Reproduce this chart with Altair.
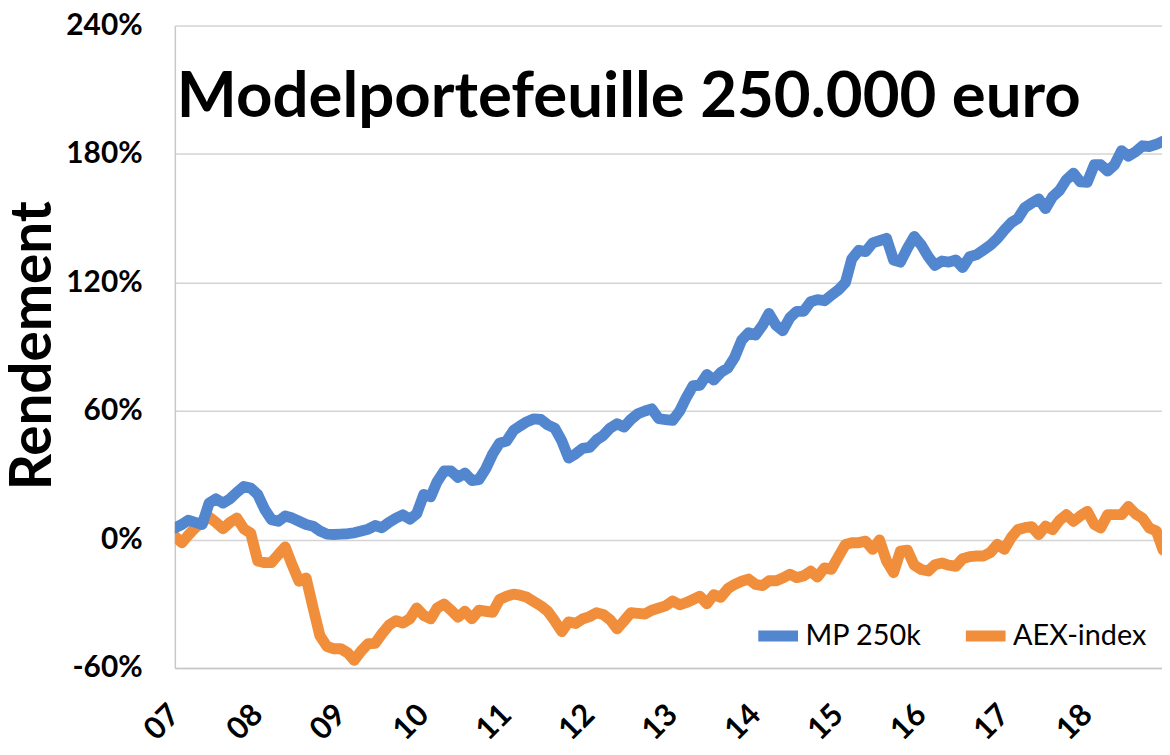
import altair as alt
import pandas as pd

# Monthly returns (%) from Jan 2007
start_month = "2007-01-01"
mp_250k = [
    5.4, 7, 9, 8, 7, 17, 19, 17, 19, 22, 24.7, 24,
    21, 14, 9.3, 8.5, 11, 10, 8.5, 7, 6.2, 4, 2.5, 2.3,
    2.5, 2.7, 3.1, 4, 4.8, 6.5, 5.5, 8, 10, 11.5, 9.5, 12,
    21, 20, 27, 32, 32, 29, 31, 27.5, 28, 33, 40, 45,
    46, 51, 53, 55, 56.3, 56, 53.5, 52, 46, 38, 40, 42.5,
    43, 46.5, 48.5, 52, 54, 52.5, 56, 58.7, 60, 61, 56.4, 56,
    55.6, 60, 66, 71.8, 72, 77, 74.5, 78, 80, 85, 93, 96.5,
    95.5, 100, 105.5, 100, 97.5, 103.5, 106.5, 106.6, 111, 112, 111.5, 114,
    116.5, 120, 131, 135, 134.4, 138.5, 139.5, 140.6, 130.5, 129.5, 136, 141.5,
    137.5, 132, 128, 130, 129.5, 130.5, 127, 132, 133, 135.2, 137.5, 140.5,
    144.5, 148, 149.8, 155, 157, 159, 154.5, 160, 163, 168, 171, 167,
    166.8, 175, 175, 172, 175, 181.5, 179, 181, 183.8, 183.5, 184.5, 186,
]
aex_index = [
    1.5, -1.5, 2, 5.5, 8, 10.5, 8, 5, 8, 10, 5, 3,
    -10, -10.8, -10.8, -7, -3.5, -12, -19.5, -18, -32, -45, -50, -51,
    -51, -53, -56.4, -52, -48.7, -48.5, -44, -40, -37.9, -39, -37, -32,
    -35.5, -37, -32, -30.1, -33, -36.3, -33.5, -37, -33, -33.5, -34, -28,
    -26.5, -25.5, -26, -27, -29, -31, -33.5, -38, -43, -38.5, -39.2, -37.1,
    -36, -34.2, -35, -37.5, -41.7, -38, -34.2, -34.5, -34.8, -33, -32, -31,
    -28.7, -30.5, -29.5, -28, -26.5, -30, -25.8, -27, -23, -21, -19.5, -18.5,
    -21, -21.5, -19.3, -19.3, -18, -16.2, -17.8, -17, -14.8, -17.5, -13.3, -13.9,
    -8, -2.3, -1.5, -1.5, -0.8, -4.6, -0.2, -10, -15.5, -5.5, -5, -12,
    -14, -14.7, -11.8, -11, -12, -12.5, -9, -8, -7.7, -7.7, -6, -2.3,
    -4.6, 1, 4.6, 5.5, 6, 2.3, 6.2, 4.6, 9, 11.6, 8.5, 11,
    13.1, 7, 5.4, 11.6, 11.6, 11.6, 15.4, 12, 10, 5.4, 4, -5,
]
series_names = ["MP 250k", "AEX-index"]
series_colors = ["#5286CF", "#F08E3C"]
y_ticks = [-60, 0, 60, 120, 180, 240]
years = list(range(2007, 2019))
title_text = "Modelportefeuille 250.000 euro"
y_title = "Rendement"

dates = pd.date_range(start_month, periods=len(mp_250k), freq="MS")
df = pd.concat([
    pd.DataFrame({"date": dates, "value": aex_index, "series": "AEX-index", "ord": 0}),
    pd.DataFrame({"date": dates, "value": mp_250k, "series": "MP 250k", "ord": 1}),
])

FONT = "Lato"

x_enc = alt.X(
    "date:T",
    scale=alt.Scale(domain=[alt.DateTime(year=2007, month=1, date=1),
                            alt.DateTime(year=2018, month=11, date=26)]),
    axis=alt.Axis(
        title=None, format="%y", values=[alt.DateTime(year=y, month=1, date=1) for y in years],
        labelAngle=-45, labelAlign="right", labelBaseline="middle",
        labelFont=FONT, labelFontWeight="bold", labelFontSize=31, labelColor="black",
        labelPadding=42, ticks=False, grid=False,
        domainColor="#C8C8C8", domainWidth=1.5, labelFlush=False,
    ),
)
y_enc = alt.Y(
    "value:Q",
    scale=alt.Scale(domain=[-60, 240], nice=False, zero=False),
    axis=alt.Axis(
        values=y_ticks, labelExpr="datum.value + '%'",
        labelFont=FONT, labelFontWeight="bold", labelFontSize=30, labelColor="black",
        labelPadding=33, ticks=False, grid=True, gridColor="#D4D4D4", gridWidth=1.5,
        domainColor="#C8C8C8", domainWidth=1.5,
        title=y_title, titleFont=FONT, titleFontWeight="bold", titleFontSize=57,
        titleColor="black", titleAngle=270, titleAlign="center", titleBaseline="alphabetic",
        titleX=-125, titleY=322, labelFlush=False,
    ),
)

lines = alt.Chart(df).mark_line(
    strokeWidth=11, strokeCap="round", strokeJoin="round", clip=True
).encode(
    x=x_enc,
    y=y_enc,
    color=alt.Color(
        "series:N",
        scale=alt.Scale(domain=series_names, range=series_colors),
        legend=alt.Legend(
            title=None, orient="none", legendX=582, legendY=589, direction="horizontal",
            symbolType="stroke", symbolStrokeWidth=11, symbolSize=1600,
            labelFont=FONT, labelFontSize=29, labelColor="black", labelOffset=2,
            columnPadding=22,
        ),
    ),
    order=alt.Order("ord:Q"),
    detail="series:N",
)

title = alt.Chart(pd.DataFrame({"t": [title_text]})).mark_text(
    font=FONT, fontWeight="bold", fontSize=64, align="left", baseline="alphabetic", color="black"
).encode(x=alt.value(2), y=alt.value(92), text="t:N")

chart = alt.layer(lines, title).properties(
    width=994, height=647,
    autosize=alt.AutoSizeParams(type="none"),
    padding={"left": 168, "top": 15, "right": 0, "bottom": 80},
).configure_view(stroke=None)

chart.save("out.html", embed_options={"renderer": "svg", "actions": False})
